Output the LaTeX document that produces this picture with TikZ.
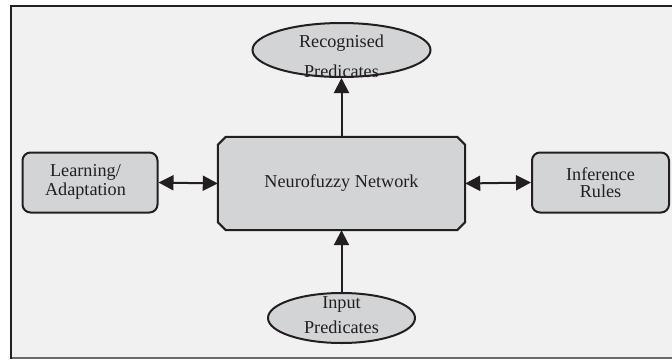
\documentclass[tikz,border=0pt]{standalone}
\usepackage{fontspec}
\setmainfont{Liberation Serif}
\usetikzlibrary{arrows.meta,shapes.geometric}
\definecolor{bgc}{HTML}{F1F1F1}
\definecolor{boxfill}{HTML}{D3D4D6}
\definecolor{ink}{HTML}{231F20}
\definecolor{frameb}{HTML}{6A6A6A}
\begin{document}
\begin{tikzpicture}[x=1pt,y=-1pt,
  every node/.style={text=ink},
  lbl/.style={font=\fontsize{18.2}{20}\selectfont, inner sep=0pt, anchor=base},
  mainbox/.style={rectangle, minimum width=247pt, minimum height=93pt, inner sep=0pt,
     font=\fontsize{18.2}{20}\selectfont},
  chamf/.style={draw=ink, line width=2pt, fill=boxfill, line join=miter},
  sidebox/.style={rectangle, rounded corners=8pt, draw=ink, line width=2pt, fill=boxfill, inner sep=0pt},
  pred/.style={ellipse, draw=ink, line width=2pt, fill=boxfill, inner sep=0pt},
  conn/.style={draw=ink, line width=2pt, -{Triangle[length=15pt,width=15pt]}},
  dconn/.style={draw=ink, line width=2pt, {Triangle[length=15pt,width=15pt]}-{Triangle[length=15pt,width=15pt]}}
]
\useasboundingbox (0,0) rectangle (672,359);
\fill[white] (0,0) rectangle (672,359);
\fill[bgc] (10.5,5.5) rectangle (672,357.5);
\draw[frameb, line width=2pt] (10.5,357.5) -- (672,357.5);
\draw[ink, line width=2pt] (672,5.5) -- (10.5,5.5) -- (10.5,358.5);

% central box (chamfered corners)
\node[mainbox] (nn) at (341.5,183.5) {};
\path[chamf] ([xshift=8pt]nn.north west) -- ([xshift=-8pt]nn.north east)
  -- ([yshift=-8pt]nn.north east) -- ([yshift=8pt]nn.south east)
  -- ([xshift=-8pt]nn.south east) -- ([xshift=8pt]nn.south west)
  -- ([yshift=8pt]nn.south west) -- ([yshift=-8pt]nn.north west) -- cycle;
\node[mainbox] (nntext) at (nn.center) {Neurofuzzy Network};

% side boxes
\node[sidebox, minimum width=135pt, minimum height=60pt] (learn) at (90,182.5) {};
\node[lbl] (learn1) at (85.5,176.7) {Learning/};
\node[lbl] (learn2) at (85.5,195) {Adaptation};
\node[sidebox, minimum width=137pt, minimum height=60pt] (infer) at (600.5,182.5) {};
\node[lbl] (infer1) at (600.5,180) {Inference};
\node[lbl] (infer2) at (600.5,197.5) {Rules};

% ellipses
\node[pred, minimum width=178pt, minimum height=54pt] (rec) at (341.5,50) {};
\node[lbl] (rec1) at (341.5,47) {Recognised};
\node[lbl] (rec2) at (341.5,77) {Predicates};
\node[pred, minimum width=147pt, minimum height=50pt] (inp) at (341.5,318) {};
\node[lbl] (inp1) at (341.5,308.3) {Input};
\node[lbl] (inp2) at (341.5,333.3) {Predicates};

% connectors
\draw[conn] (nn.north) -- (rec.south);
\draw[conn] (inp.north) -- (nn.south);
\draw[dconn] (learn.east) -- (nn.west);
\draw[dconn] (nn.east) -- (infer.west);
\end{tikzpicture}
\end{document}
